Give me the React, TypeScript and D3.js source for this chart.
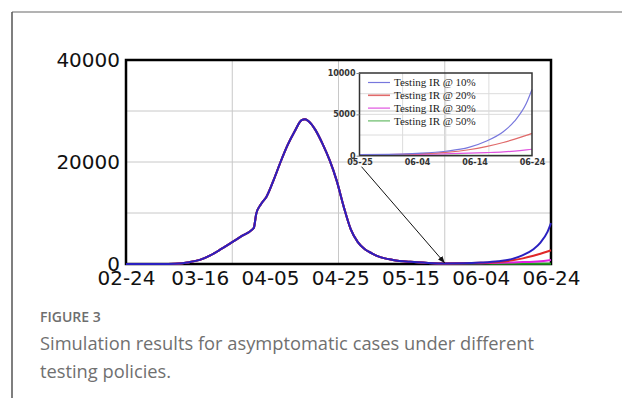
import {
  axisBottom,
  axisLeft,
  curveMonotoneX,
  line,
  scaleLinear,
  select,
} from "d3";
import { useEffect, useRef } from "react";

// days counted from 02-24
const tickLabels = ["02-24", "03-16", "04-05", "04-25", "05-15", "06-04", "06-24"];
const tickDays = [0, 21, 41, 61, 81, 101, 121];
const yTicks = [0, 20000, 40000];
const yGrid = [10000, 20000, 30000];

// the four policies share one curve until late May
const sharedDays = [
  0, 10, 14, 18, 21, 24, 27, 30, 33, 36, 36.4, 37.1, 38.5, 40, 42, 44, 46, 48, 50, 51,
  52, 54, 56, 58, 60, 62, 64, 66, 68, 70, 72, 76, 81, 86, 91,
];
const sharedCases = [
  0, 0, 60, 350, 800, 1700, 2900, 4200, 5500, 6800, 7100, 9900, 11800, 13200, 16400,
  20000, 23300, 26000, 28200, 28400, 28000, 26200, 23500, 20300, 16300, 11200, 6800,
  4300, 2900, 2100, 1450, 800, 420, 220, 120,
];

const tailDays = [96, 101, 106, 110, 113, 116, 118, 120, 121];
const ir10 = [150, 280, 540, 1000, 1750, 2900, 4200, 6300, 8000];
const ir20 = [140, 230, 400, 720, 1100, 1600, 2000, 2450, 2700];
const ir30 = [130, 170, 230, 300, 370, 460, 560, 700, 780];
const ir50 = [100, 80, 65, 55, 50, 45, 45, 45, 45];

const seriesNames = [
  "Testing IR @ 10%",
  "Testing IR @ 20%",
  "Testing IR @ 30%",
  "Testing IR @ 50%",
];

const insetTickLabels = ["05-25", "06-04", "06-14", "06-24"];
const insetTickDays = [91, 101, 111, 121];
const insetYTicks = [0, 5000, 10000];
const insetYGrid = [2500, 5000, 7500];

type Pt = { day: number; value: number };

export default function App() {
  const svgRef = useRef<SVGSVGElement | null>(null);

  useEffect(() => {
    if (!svgRef.current) return;
    const svg = select(svgRef.current);
    svg.selectAll("*").remove();

    const tails = [ir10, ir20, ir30, ir50];
    const series: Pt[][] = tails.map((tail) => [
      ...sharedDays.map((d, i) => ({ day: d, value: sharedCases[i] })),
      ...tailDays.map((d, i) => ({ day: d, value: tail[i] })),
    ]);
    const mainColors = ["#2a20c0", "#e02828", "#e020e0", "#20a020"];
    const insetColors = ["#7777dd", "#e06a6a", "#e055e0", "#66bb66"];

    // page frame
    svg
      .append("line")
      .attr("x1", 12)
      .attr("x2", 622)
      .attr("y1", 12)
      .attr("y2", 12)
      .attr("stroke", "#9a9a9a")
      .attr("stroke-width", 1.5);
    svg
      .append("line")
      .attr("x1", 12)
      .attr("x2", 12)
      .attr("y1", 12)
      .attr("y2", 398)
      .attr("stroke", "#555")
      .attr("stroke-width", 1.5);

    const x = scaleLinear().domain([0, 121]).range([126, 551]);
    const y = scaleLinear().domain([0, 40000]).range([264, 60]);

    // grid
    const [d0, d1] = x.domain();
    const quarters = [0.25, 0.5, 0.75].map((q) => d0 + (d1 - d0) * q);
    svg
      .append("g")
      .selectAll("line")
      .data(quarters)
      .join("line")
      .attr("x1", (d) => x(d))
      .attr("x2", (d) => x(d))
      .attr("y1", y(40000))
      .attr("y2", y(0))
      .attr("stroke", "#c8c8c8")
      .attr("stroke-width", 1);
    svg
      .append("g")
      .selectAll("line")
      .data(yGrid)
      .join("line")
      .attr("x1", x(d0))
      .attr("x2", x(d1))
      .attr("y1", (d) => y(d))
      .attr("y2", (d) => y(d))
      .attr("stroke", "#c8c8c8")
      .attr("stroke-width", 1);

    svg
      .append("rect")
      .attr("x", x(d0))
      .attr("y", y(40000))
      .attr("width", x(d1) - x(d0))
      .attr("height", y(0) - y(40000))
      .attr("fill", "none")
      .attr("stroke", "#000")
      .attr("stroke-width", 2.5);

    // axes
    const xAxis = svg
      .append("g")
      .attr("transform", `translate(0,${y(0)})`)
      .call(
        axisBottom(x)
          .tickValues(tickDays)
          .tickSize(0)
          .tickFormat((_, i) => tickLabels[i]),
      );
    xAxis.select(".domain").remove();
    xAxis
      .selectAll("text")
      .attr("dy", 0)
      .attr("y", 21)
      .attr("fill", "#111")
      .style("font", "20px 'DejaVu Sans', Verdana, sans-serif");

    const yAxis = svg
      .append("g")
      .attr("transform", `translate(${x(d0)},0)`)
      .call(axisLeft(y).tickValues(yTicks).tickSize(0).tickFormat((d) => String(d)));
    yAxis.select(".domain").remove();
    yAxis
      .selectAll("text")
      .attr("x", -6)
      .attr("fill", "#111")
      .style("font", "20px 'DejaVu Sans', Verdana, sans-serif");

    // curves
    const mainLine = line<Pt>()
      .x((p) => x(p.day))
      .y((p) => y(p.value))
      .curve(curveMonotoneX);
    [3, 2, 1, 0].forEach((k) => {
      svg
        .append("path")
        .attr("d", mainLine(series[k]))
        .attr("fill", "none")
        .attr("stroke", mainColors[k])
        .attr("stroke-width", 2);
    });

    // inset
    const ix = scaleLinear().domain([91, 121]).range([359.5, 532]);
    const iy = scaleLinear().domain([0, 10000]).range([155.7, 73]);
    const [i0, i1] = ix.domain();
    const iq = [0.25, 0.5, 0.75].map((q) => i0 + (i1 - i0) * q);
    svg
      .append("g")
      .selectAll("line")
      .data(iq)
      .join("line")
      .attr("x1", (d) => ix(d))
      .attr("x2", (d) => ix(d))
      .attr("y1", iy(10000))
      .attr("y2", iy(0))
      .attr("stroke", "#dcdcdc");
    svg
      .append("g")
      .selectAll("line")
      .data(insetYGrid)
      .join("line")
      .attr("x1", ix(i0))
      .attr("x2", ix(i1))
      .attr("y1", (d) => iy(d))
      .attr("y2", (d) => iy(d))
      .attr("stroke", "#dcdcdc");

    const insetLine = line<Pt>()
      .x((p) => ix(p.day))
      .y((p) => iy(p.value))
      .curve(curveMonotoneX);
    [3, 2, 1, 0].forEach((k) => {
      svg
        .append("path")
        .attr("d", insetLine(series[k].filter((p) => p.day >= i0)))
        .attr("fill", "none")
        .attr("stroke", insetColors[k])
        .attr("stroke-width", 1.2);
    });

    svg
      .append("rect")
      .attr("x", ix(i0))
      .attr("y", iy(10000))
      .attr("width", ix(i1) - ix(i0))
      .attr("height", iy(0) - iy(10000))
      .attr("fill", "none")
      .attr("stroke", "#333")
      .attr("stroke-width", 1.5);

    const insetFont = "bold 8px 'DejaVu Sans', Verdana, sans-serif";
    const ixAxis = svg
      .append("g")
      .attr("transform", `translate(0,${iy(0)})`)
      .call(
        axisBottom(ix)
          .tickValues(insetTickDays)
          .tickSize(0)
          .tickFormat((_, i) => insetTickLabels[i]),
      );
    ixAxis.select(".domain").remove();
    ixAxis
      .selectAll("text")
      .attr("dy", 0)
      .attr("y", 9)
      .attr("fill", "#333")
      .style("font", insetFont);

    const iyAxis = svg
      .append("g")
      .attr("transform", `translate(${ix(i0)},0)`)
      .call(axisLeft(iy).tickValues(insetYTicks).tickSize(3).tickPadding(1).tickFormat((d) => String(d)));
    iyAxis.select(".domain").remove();
    iyAxis.selectAll("line").attr("stroke", "#888");
    iyAxis.selectAll("text").attr("fill", "#333").style("font", insetFont);

    // legend
    const legend = svg.append("g").attr("transform", "translate(368,82.5)");
    seriesNames.forEach((name, i) => {
      const row = legend.append("g").attr("transform", `translate(0,${i * 12.8})`);
      row
        .append("line")
        .attr("x1", 0)
        .attr("x2", 22)
        .attr("stroke", insetColors[i])
        .attr("stroke-width", i === 1 ? 1.6 : 1.2);
      row
        .append("text")
        .attr("x", 26)
        .attr("dy", "0.35em")
        .attr("fill", "#222")
        .style("font", "11px 'Liberation Serif', 'Times New Roman', serif")
        .text(name);
    });

    // arrow from inset down to where the curves split
    const defs = svg.append("defs");
    defs
      .append("marker")
      .attr("id", "arrowhead")
      .attr("viewBox", "0 0 10 10")
      .attr("refX", 10)
      .attr("refY", 5)
      .attr("markerWidth", 7)
      .attr("markerHeight", 7)
      .attr("orient", "auto")
      .append("path")
      .attr("d", "M0,1 L10,5 L0,9 Z")
      .attr("fill", "#111");
    svg
      .append("line")
      .attr("x1", ix(i0) + 2)
      .attr("y1", iy(0) + 11)
      .attr("x2", x(quarters[2]))
      .attr("y2", y(0) - 1)
      .attr("stroke", "#111")
      .attr("stroke-width", 1)
      .attr("marker-end", "url(#arrowhead)");

    // caption
    svg
      .append("text")
      .attr("x", 40)
      .attr("y", 322)
      .attr("fill", "#6e6e6e")
      .style("font", "600 14px 'Open Sans', sans-serif")
      .text("FIGURE 3");
    svg
      .append("text")
      .attr("x", 40)
      .attr("y", 350)
      .attr("fill", "#707070")
      .style("font", "18.3px 'Open Sans', sans-serif")
      .text("Simulation results for asymptomatic cases under different");
    svg
      .append("text")
      .attr("x", 40)
      .attr("y", 378)
      .attr("fill", "#707070")
      .style("font", "18.3px 'Open Sans', sans-serif")
      .text("testing policies.");
  }, []);

  return (
    <svg
      ref={svgRef}
      width={622}
      height={398}
      style={{ position: "absolute", left: 0, top: 0, background: "#fff" }}
      role="img"
      aria-label="Simulation results for asymptomatic cases"
    />
  );
}
